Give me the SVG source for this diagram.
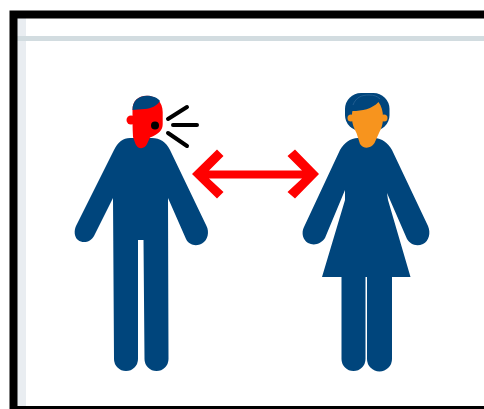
<svg xmlns="http://www.w3.org/2000/svg" width="484" height="409" viewBox="0 0 484 409">
<defs><style>
.navy{fill:#00457c}
.red{fill:#ff0000}
.skin{fill:#f7941e}
.sound{stroke:#000;stroke-width:4;stroke-linecap:round;fill:none}
</style></defs>
<rect width="484" height="409" fill="#fff"/>
<g id="frame">
<rect x="17" y="18" width="9" height="388" fill="#e9edf1"/>
<rect x="17" y="36" width="467" height="5" fill="#d2dce0"/>
<path d="M9.500 409V10.500H484V18.500H17.500V406H484V409Z" fill="#000"/>
</g>
<g id="man">
<path class="navy" d="M130 138H152C160 138 166 142 170 150L206.500 226C209.500 232 208 240 202 243.500C196 247 189 245 186 239L168 198L168.500 359A12 12 0 0 1 144.500 359L143.500 240H138L138 359A12 12 0 0 1 114 359L113 198L94 236C91 242 83 244 78 240C74 237 74 230 76 226L114 150C118 142 123 138 130 138Z"/>
<circle class="red" cx="131" cy="120" r="4.500"/>
<path class="red" d="M132.500 110C132.500 101 138 95.700 147 95.700C156 95.700 162.700 102 162.700 112V124C162.700 130 159 134 150 137.500L147 144C145 149 138 150 135.500 144L133 137C132.500 128 132.500 120 132.500 110Z"/>
<path class="navy" d="M132.500 110C132.500 101 138 95.700 147 95.700C153 95.700 158 98 160 101C157 106 151 108.500 145 109C140 109.300 136 109.500 132.500 110Z"/>
<circle cx="155" cy="125.500" r="4" fill="#000"/>
<path class="sound" d="M168 119L187 107M173 125H197M168 133L187 146"/>
</g>
<g id="woman">
<path class="navy" d="M358 138H374C382 138 388 143 392 150L428 226C431 233 429 241 423 244C416 247 410 244 407 239L387 193L388 200L410.500 277H392V359A12.500 12.500 0 0 1 367 359V277H365.500V359A12 12 0 0 1 341.500 359V277H322L345 200L345 190L325 238C321 244 314 246 308 243C303 240 301 233 304 227L340 150C344 143 350 138 358 138Z"/>
<rect class="navy" x="345" y="93" width="44.500" height="38" rx="16"/>
<path d="M353 105C356 97 362 95 369 95C374 95 377 96 380 99" fill="none" stroke="#2a6396" stroke-width="0.800"/>
<circle class="skin" cx="351" cy="118" r="3.500"/>
<circle class="skin" cx="384" cy="118" r="3.500"/>
<path class="skin" d="M352 118C352 114 352 112 352.500 111C362 111 372 109 378.500 102C381.500 106 383 111 383 118C383 125 381 129 379 133L374.500 143C371 149 363 149 360 144L356.500 133C354 128 352 124 352 118Z"/>
</g>
<g id="connectors">
<path class="red" d="M192 174L217 149.500L223.500 156L209 170.500H302L287.500 156L295 149.500L319 174L295 198.500L287.500 192L302 178.500H209L223.500 192L217 198.500Z"/>
</g>
</svg>
